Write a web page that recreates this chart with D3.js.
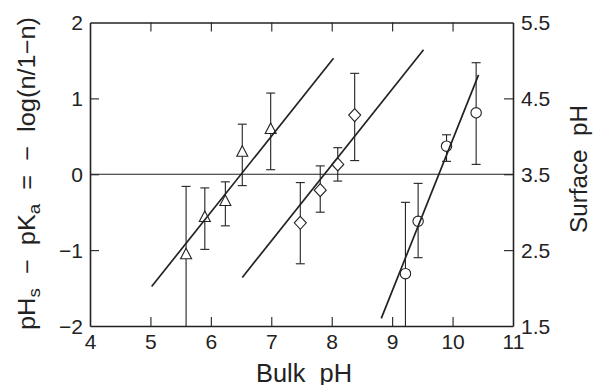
<!DOCTYPE html>
<html><head><meta charset="utf-8">
<script src="https://cdn.jsdelivr.net/npm/d3@7"></script>
<style>body{margin:0;background:#fff}svg{display:block}text{font-family:"Liberation Sans",Arial,Helvetica,sans-serif;fill:#222}</style>
</head><body>
<script>
// Data
const xTicks = [4,5,6,7,8,9,10,11];
const yTicks = [-2,-1,0,1,2];
const yRightLabels = ["1.5","2.5","3.5","4.5","5.5"];

const triX  = [5.59, 5.90, 6.24, 6.52, 6.99];
const triY  = [-1.06, -0.57, -0.36, 0.29, 0.59];
const triHi = [-0.16, -0.18, -0.10, 0.66, 1.07];
const triLo = [-2.00, -0.99, -0.68, -0.15, 0.06];

const diaX  = [7.48, 7.81, 8.10, 8.38];
const diaY  = [-0.64, -0.21, 0.13, 0.78];
const diaHi = [-0.11, 0.11, 0.35, 1.33];
const diaLo = [-1.18, -0.50, -0.09, 0.18];

const cirX  = [9.22, 9.43, 9.90, 10.39];
const cirY  = [-1.31, -0.62, 0.37, 0.81];
const cirHi = [-0.37, -0.12, 0.52, 1.47];
const cirLo = [-2.00, -1.10, 0.17, 0.13];

const fitTri = [[5.02,-1.48],[8.03,1.53]];
const fitDia = [[6.52,-1.36],[9.52,1.64]];
const fitCir = [[8.82,-1.90],[10.43,1.31]];

const W=594,H=385;
const m={l:90,r:81,t:22.5,b:59};
const svg=d3.select("body").append("svg").attr("width",W).attr("height",H);
const x=d3.scaleLinear().domain([4,11]).range([m.l,W-m.r]);
const y=d3.scaleLinear().domain([-2,2]).range([H-m.b,m.t]);
const yR=d3.scaleLinear().domain([1.5,5.5]).range([H-m.b,m.t]);

const col="#222";
const fs=21;
// axes
const axB=svg.append("g").attr("transform",`translate(0,${H-m.b})`)
  .call(d3.axisBottom(x).tickValues(xTicks).tickSizeInner(-9).tickSizeOuter(0).tickPadding(8).tickFormat(d3.format("d")));
const axT=svg.append("g").attr("transform",`translate(0,${m.t})`)
  .call(d3.axisTop(x).tickValues(xTicks.slice(1,-1)).tickSizeInner(-9).tickSizeOuter(0).tickFormat(""));
const axL=svg.append("g").attr("transform",`translate(${m.l},0)`)
  .call(d3.axisLeft(y).tickValues(yTicks).tickSizeInner(-9).tickSizeOuter(0).tickPadding(7).tickFormat(d=>d<0?"\u2212"+Math.abs(d):d));
const axR=svg.append("g").attr("transform",`translate(${W-m.r},0)`)
  .call(d3.axisRight(yR).tickValues(yRightLabels.map(Number)).tickSizeInner(-9).tickSizeOuter(0).tickPadding(8).tickFormat((d,i)=>yRightLabels[i]));
[axB,axT,axL,axR].forEach(a=>{
  a.select(".domain").attr("stroke",col).attr("stroke-width",1.6);
  a.selectAll(".tick line").attr("stroke",col).attr("stroke-width",1.1);
  a.selectAll(".tick text").attr("font-size",fs).attr("fill",col).style("font-family","'Liberation Sans',Arial,sans-serif");
});
// remove edge ticks that sit on the frame corners
axB.selectAll(".tick").filter(d=>d===4||d===11).select("line").remove();
axL.selectAll(".tick").filter(d=>d===-2||d===2).select("line").remove();
axR.selectAll(".tick").filter(d=>d===1.5||d===5.5).select("line").remove();
axL.selectAll(".tick text").attr("dy","0.35em");
axR.selectAll(".tick text").attr("dy","0.35em");

// zero line
svg.append("line").attr("x1",x(4)).attr("x2",x(11)).attr("y1",y(0)).attr("y2",y(0))
  .attr("stroke",col).attr("stroke-width",1.1);

// error bars
function errBars(xs,hi,lo){
  const g=svg.append("g").attr("stroke",col).attr("stroke-width",1.1).attr("fill","none");
  xs.forEach((xv,i)=>{
    g.append("line").attr("x1",x(xv)).attr("x2",x(xv)).attr("y1",y(hi[i])).attr("y2",y(lo[i]));
    g.append("line").attr("x1",x(xv)-4.5).attr("x2",x(xv)+4.5).attr("y1",y(hi[i])).attr("y2",y(hi[i]));
    if(lo[i]>-2) g.append("line").attr("x1",x(xv)-4.5).attr("x2",x(xv)+4.5).attr("y1",y(lo[i])).attr("y2",y(lo[i]));
  });
}
errBars(triX,triHi,triLo);errBars(diaX,diaHi,diaLo);errBars(cirX,cirHi,cirLo);

// markers
const mk=svg.append("g").attr("stroke",col).attr("stroke-width",1.1).attr("fill","#fff");
triX.forEach((xv,i)=>{
  const cx=x(xv),cy=y(triY[i]);
  mk.append("path").attr("d",`M${cx},${cy-6.5}L${cx+5.5},${cy+4}L${cx-5.5},${cy+4}Z`);
});
diaX.forEach((xv,i)=>{
  const cx=x(xv),cy=y(diaY[i]);
  mk.append("path").attr("d",`M${cx},${cy-6.5}L${cx+6},${cy}L${cx},${cy+6.5}L${cx-6},${cy}Z`);
});
cirX.forEach((xv,i)=>{
  mk.append("circle").attr("cx",x(xv)).attr("cy",y(cirY[i])).attr("r",5.2);
});

// fit lines
const line=d3.line().x(d=>x(d[0])).y(d=>y(d[1]));
[fitTri,fitDia,fitCir].forEach(f=>{
  svg.append("path").attr("d",line(f)).attr("stroke",col).attr("stroke-width",1.7).attr("fill","none");
});

// labels
svg.append("text").attr("x",304).attr("y",381.5).attr("text-anchor","middle")
  .attr("font-size",25).style("white-space","pre").attr("textLength",96).attr("lengthAdjust","spacingAndGlyphs").text("Bulk  pH");
const yl=svg.append("text").attr("transform",`translate(34.5,173.5) rotate(-90)`).attr("text-anchor","middle")
  .attr("font-size",23).style("white-space","pre").attr("textLength",313).attr("lengthAdjust","spacingAndGlyphs");
yl.append("tspan").text("pH");
yl.append("tspan").attr("font-size",17).attr("dy",5).text("s");
yl.append("tspan").attr("dy",-5).text("  \u2212  pK");
yl.append("tspan").attr("font-size",17).attr("dy",5).text("a");
yl.append("tspan").attr("dy",-5).text("  =  \u2212  log(n/1\u2212n)");
svg.append("text").attr("transform",`translate(587,169) rotate(-90)`).attr("text-anchor","middle")
  .attr("font-size",23).style("white-space","pre").attr("textLength",128).attr("lengthAdjust","spacingAndGlyphs").text("Surface  pH");
</script>
</body></html>
